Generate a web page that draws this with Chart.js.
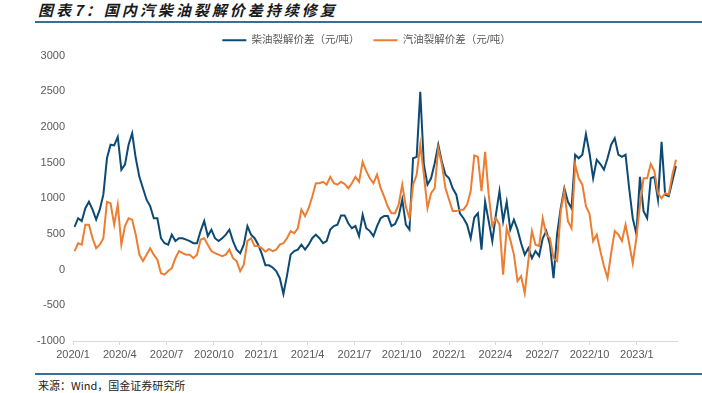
<!DOCTYPE html>
<html>
<head>
<meta charset="utf-8">
<script src="https://cdn.jsdelivr.net/npm/chart.js@4.4.1/dist/chart.umd.min.js"></script>
<style>
  html, body { margin: 0; padding: 0; background: #fff; }
  #wrap { position: relative; width: 702px; height: 393px; overflow: hidden; font-family: "Noto Sans CJK SC", sans-serif; }
  #title { position: absolute; left: 38px; top: 0px; font-size: 15px; line-height: 20px; font-weight: bold; font-style: italic; letter-spacing: 3px; color: #1a1a1a; white-space: nowrap; }
  .rule { position: absolute; left: 35px; width: 667px; height: 2px; background: #3b6e8f; }
  #src { position: absolute; left: 38px; top: 378px; font-size: 11px; line-height: 14px; color: #222; white-space: nowrap; }
  #box { position: absolute; left: 0; top: 0; width: 702px; height: 368px; }
</style>
</head>
<body>
<div id="wrap">
  <div id="title">图表7：国内汽柴油裂解价差持续修复</div>
  <div class="rule" style="top:21px"></div>
  <div id="box"><canvas id="myChart" width="702" height="368"></canvas></div>
  <div class="rule" style="top:373px"></div>
  <div id="src">来源：Wind，国金证券研究所</div>
</div>
<script>
// weekly readings, first point 2020-01-03, one point every 7 days
const firstDay = 3;
const stepDays = 7;

const diesel = [
  600, 720, 680, 860, 950, 840, 700, 840, 1050, 1560,
  1750, 1740, 1860, 1400, 1470, 1750, 1910, 1560, 1300, 1140,
  980, 890, 720, 720, 440, 370, 350, 490, 400, 440,
  440, 420, 400, 370, 370, 540, 680, 470, 560, 440,
  400, 440, 490, 560, 400, 280, 230, 350, 610, 490,
  440, 350, 220, 60, 60, 30, -20, -120, -340, -80,
  210, 260, 280, 350, 280, 350, 440, 490, 440, 370,
  400, 560, 610, 630, 760, 760, 650, 580, 610, 470,
  770, 580, 540, 470, 610, 720, 750, 750, 610, 640,
  750, 980, 630, 560, 1560, 1580, 2490, 1470, 1190, 1280,
  1490, 1750, 1510, 1330, 1280, 1140, 1050, 790, 720, 630,
  440, 730, 790, 280, 950, 680, 400, 770, 1100, 680,
  950, 560, 700, 560, 370, 210, 300, 160, 260, 190,
  440, 540, 350, -120, 500, 860, 1140, 950, 860, 1610,
  1560, 1610, 1900, 1630, 1280, 1540, 1480, 1400, 1560, 1750,
  1840, 1610, 1580, 1610, 1140, 720, 500, 1300, 820, 720,
  1280, 1300, 980, 1790, 1050, 1030, 1240, 1450
];

const gasoline = [
  260, 370, 350, 630, 630, 440, 300, 350, 440, 950,
  930, 630, 910, 350, 610, 720, 700, 490, 210, 120,
  210, 300, 210, 140, -50, -70, -20, 20, 160, 260,
  230, 210, 210, 160, 210, 420, 440, 350, 260, 230,
  210, 190, 210, 280, 160, 120, -20, 70, 400, 440,
  330, 330, 300, 250, 290, 260, 280, 350, 370, 440,
  540, 510, 580, 840, 750, 860, 1020, 1210, 1210, 1230,
  1190, 1300, 1210, 1190, 1230, 1200, 1140, 1210, 1300, 1230,
  1510, 1380, 1280, 1210, 1330, 1140, 1020, 880, 790, 790,
  910, 1190, 880, 720, 1190, 1330, 1750, 1330, 860, 1070,
  1140, 1700, 1470, 1140, 980, 820, 820, 840, 840, 910,
  1100, 1600, 1580, 1100, 1650, 1050, 610, 720, 630, -70,
  580, 420, 210, -160, -90, -330, 120, 540, 350, 330,
  720, 490, 440, 160, 120, 820, 1100, 680, 580, 1470,
  1280, 1190, 890, 780, 400, 490, 260, 50, -120, 230,
  540, 490, 400, 630, 370, 90, 440, 910, 1280, 1280,
  1480, 1380, 1070, 1000, 1070, 1050, 1330, 1540
];

// quarter starts, days since 2020-01-01
const tickDays = [0, 91, 182, 274, 366, 456, 547, 639, 731, 821, 912, 1004, 1096];
const tickLabels = ["2020/1", "2020/4", "2020/7", "2020/10", "2021/1", "2021/4", "2021/7",
  "2021/10", "2022/1", "2022/4", "2022/7", "2022/10", "2023/1"];

const toPoints = (vals) => vals.map((v, i) => ({ x: firstDay + stepDays * i, y: v }));

const family = "'Liberation Sans', 'Noto Sans CJK SC', sans-serif";
const font = { family: family, size: 11 };
const grey = "#595959";

// legend sits centred over the plot, not over the whole canvas
const shiftLegend = {
  id: "shiftLegend",
  afterLayout(chart) {
    chart.legend.left += 28;
    chart.legend.right += 28;
  },
};

const ctx = document.getElementById("myChart");

const chart = new Chart(ctx, {
  type: "line",
  data: {
    datasets: [
      { label: "柴油裂解价差（元/吨）", data: toPoints(diesel), borderColor: "#0d4a73", backgroundColor: "#0d4a73", borderWidth: 2, pointRadius: 0, tension: 0, order: 1 },
      { label: "汽油裂解价差（元/吨）", data: toPoints(gasoline), borderColor: "#ed7d31", backgroundColor: "#ed7d31", borderWidth: 2, pointRadius: 0, tension: 0, order: 0 },
    ],
  },
  options: {
    responsive: false,
    animation: false,
    layout: { padding: { top: 21, right: 25, left: 0, bottom: 0 } },
    plugins: {
      legend: {
        position: "top",
        labels: {
          usePointStyle: true,
          pointStyle: "line",
          pointStyleWidth: 24,
          boxHeight: 10.5,
          padding: 14,
          color: grey,
          font: { family: family, size: 10.5 },
          sort: (a, b) => a.datasetIndex - b.datasetIndex,
        },
      },
      tooltip: { enabled: false },
    },
    scales: {
      x: {
        type: "linear",
        min: 0,
        max: 1174,
        afterBuildTicks: (s) => { s.ticks = tickDays.map((d) => ({ value: d })); },
        afterFit: (s) => { s.height = 27; },
        ticks: {
          autoSkip: false,
          maxRotation: 0,
          padding: 3,
          color: grey,
          font: font,
          callback: (v) => tickLabels[tickDays.indexOf(v)],
        },
        grid: { drawOnChartArea: false, drawTicks: true, tickLength: 4, color: "#d9d9d9" },
        border: { display: true, color: "#d9d9d9" },
      },
      y: {
        min: -1000,
        max: 3000,
        afterFit: (s) => { s.width = 73; },
        ticks: { stepSize: 500, padding: 8, color: grey, font: font, callback: (v) => String(v) },
        grid: { display: false, drawTicks: false },
        border: { display: false },
      },
    },
  },
  plugins: [shiftLegend],
});
</script>
</body>
</html>
